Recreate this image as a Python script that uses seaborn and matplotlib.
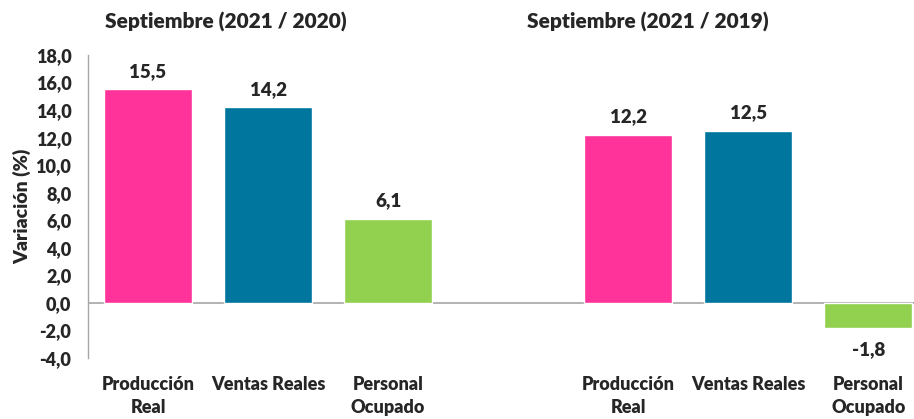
import matplotlib
matplotlib.use("Agg")
import matplotlib.pyplot as plt
import seaborn as sns
import pandas as pd

sns.set_theme(style="white")
plt.rcParams['font.family'] = ['Lato', 'DejaVu Sans']
plt.rcParams['font.weight'] = 'bold'

titles = ["Septiembre (2021 / 2020)", "Septiembre (2021 / 2019)"]
categories = ["Producción\nReal", "Ventas Reales", "Personal\nOcupado"]
values_2020 = [15.5, 14.2, 6.1]
values_2019 = [12.2, 12.5, -1.8]
colors = ["#FF3399", "#00769F", "#92D050"]
yticks = [-4, -2, 0, 2, 4, 6, 8, 10, 12, 14, 16, 18]

W = 'heavy'

rows = []
for g, vals in enumerate([values_2020, values_2019]):
    for i, (c, v) in enumerate(zip(categories, vals)):
        rows.append({"pos": g * 4 + i, "cat": c, "val": v})
df = pd.DataFrame(rows)

fig = plt.figure(figsize=(9.14, 4.19), dpi=100)
ax = fig.add_axes([88/914, 1 - 358/419, (914 - 88)/914, (358 - 55)/419])

sns.barplot(data=df, x="pos", y="val", hue="cat", palette=colors,
            native_scale=True, dodge=False, width=0.735, legend=False,
            ax=ax, saturation=1)

ax.set_xlim(-0.5, 6.38)
ax.set_ylim(-4, 18)
ax.set_yticks(yticks)
ax.set_yticklabels([f"{t:.1f}".replace(".", ",") for t in yticks], fontsize=13, fontweight=W)
ax.set_xticks(df["pos"])
ax.set_xticklabels(df["cat"], fontsize=13, fontweight=W, linespacing=1.45)
ax.tick_params(axis='x', length=0, pad=13)
ax.tick_params(axis='y', length=0, pad=12)
for lbl in ax.get_xticklabels():
    lbl.set_verticalalignment('top')

ax.set_xlabel("")
ax.set_ylabel("Variación (%)", fontsize=14, fontweight=W, labelpad=3)

for s in ["top", "right", "bottom"]:
    ax.spines[s].set_visible(False)
ax.spines["left"].set_color("#A6A6A6")
ax.spines["left"].set_linewidth(1)
ax.axhline(0, color="#A6A6A6", lw=1.2, zorder=0)

for p, v in zip(df["pos"], df["val"]):
    if v >= 0:
        ax.annotate(f"{v:.1f}".replace(".", ","), (p, v), xytext=(0, 7),
                    textcoords="offset points", ha="center", va="bottom",
                    fontsize=13.5, fontweight=W)
    else:
        ax.annotate(f"{v:.1f}".replace(".", ","), (p, v), xytext=(0, -10),
                    textcoords="offset points", ha="center", va="top",
                    fontsize=13.5, fontweight=W)

fig.text(226/914, 1 - 22/419, titles[0], ha="center", va="center", fontsize=15, fontweight=W)
fig.text(648/914, 1 - 22/419, titles[1], ha="center", va="center", fontsize=15, fontweight=W)

fig.savefig("out.png", dpi=100)
